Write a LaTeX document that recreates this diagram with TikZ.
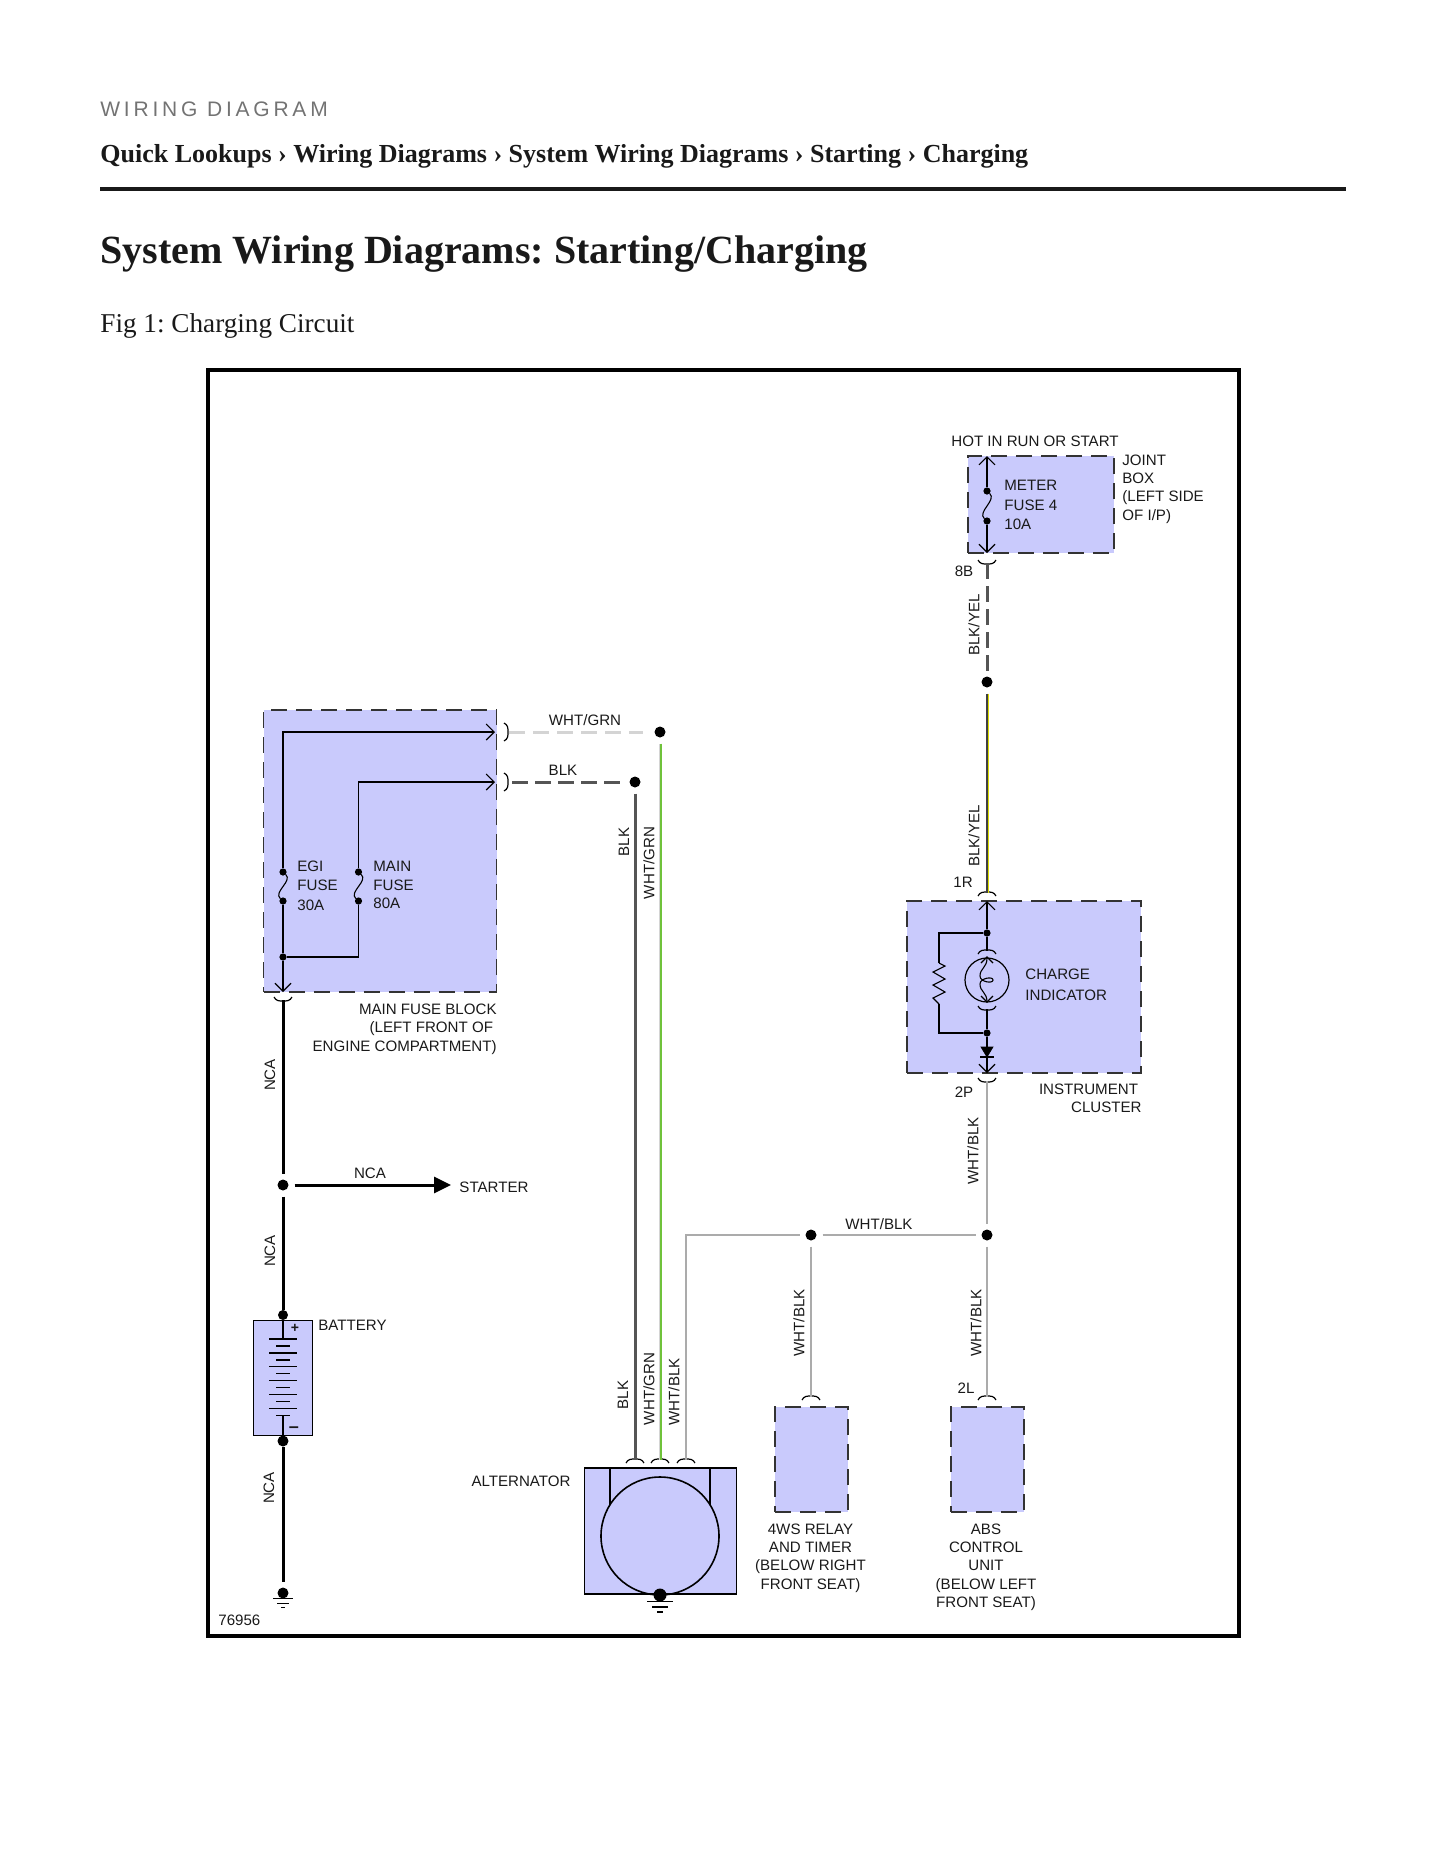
\documentclass[tikz,border=0pt]{standalone}
\usepackage{fontspec}
\setmainfont{Liberation Serif}
\newfontfamily\labelfont{Liberation Sans}
\newfontfamily\kickerfont[LetterSpace=18]{Liberation Sans}
\usetikzlibrary{arrows.meta}
\definecolor{boxfill}{HTML}{C9CAFC}
\definecolor{wiredark}{HTML}{555555}
\definecolor{wirelight}{HTML}{D4D4D4}
\definecolor{wiregrey}{HTML}{ABABAB}
\definecolor{wiregreen}{HTML}{6FC23A}
\definecolor{wireyellow}{HTML}{DEDE00}
\tikzset{
  lbl/.style={font=\labelfont\fontsize{7.55}{9.15}\selectfont,inner sep=0pt,text=black!90},
  unitbox/.style={draw=black!80,fill=boxfill,line width=0.75pt,dash pattern=on 8pt off 4.5pt,inner sep=0pt},
  solidbox/.style={draw=black,fill=boxfill,line width=0.5pt,inner sep=0pt},
  jdot/.style={circle,fill=black,inner sep=0pt,minimum size=5.5pt,outer sep=3pt},
  fdot/.style={circle,fill=black,inner sep=0pt,minimum size=3.6pt,outer sep=0pt},
  thin wire/.style={line width=0.55pt,black},
  barb/.style={-{Straight Barb[length=4pt,width=8pt,line width=0.55pt]}},
  nca/.style={line width=1.5pt,black},
  blkwire/.style={line width=1.5pt,wiredark},
  blkdash/.style={blkwire,dash pattern=on 8pt off 3.5pt},
  wgdash/.style={line width=1.5pt,wirelight,dash pattern=on 8pt off 4pt},
  wgwire/.style={line width=1.5pt,wirelight},
  wbwire/.style={line width=1.25pt,wiregrey},
  plugup/.pic={\draw [line width=0.6pt] (-9,-3) .. controls (-7,1) and (-4,1) .. (0,1) .. controls (4,1) and (7,1) .. (9,-3);},
  plugdown/.pic={\draw [line width=0.6pt] (-9,3) .. controls (-7,-1) and (-4,-1) .. (0,-1) .. controls (4,-1) and (7,-1) .. (9,3);},
  plugright/.pic={\draw [line width=0.6pt] (-3,-9) .. controls (1,-7) and (1,-4) .. (1,0) .. controls (1,4) and (1,7) .. (-3,9);}
}

\begin{document}
\frenchspacing
\begin{tikzpicture}[x=0.5pt,y=0.5pt,yscale=-1,xscale=1]
\useasboundingbox (0,0) rectangle (1445,1870);

% Page heading
\node (kicker) [anchor=base west,inner sep=0pt,text=black!55,font=\kickerfont\fontsize{10.5}{12}\selectfont] at (100,116) {WIRING DIAGRAM};
\node (crumbs) [anchor=base west,inner sep=0pt,text=black!90,font=\bfseries\fontsize{13}{16}\selectfont] at (100,162) {Quick Lookups › Wiring Diagrams › System Wiring Diagrams › Starting › Charging};
\draw [line width=1.6pt,black!90] (100,189) -- (1346,189);
\node (title) [anchor=base west,inner sep=0pt,text=black!90,font=\bfseries\fontsize{20}{24}\selectfont] at (100,263) {System Wiring Diagrams: Starting/Charging};
\node (figcap) [anchor=base west,inner sep=0pt,text=black!90,font=\fontsize{13.6}{16}\selectfont] at (100,332) {Fig 1: Charging Circuit};

% Frame
\draw [line width=2pt] (208,370) rectangle (1239,1636);

% Unit boxes
\node (fuseblock) [unitbox,minimum width=116.5pt,minimum height=141pt] at (380,851) {};
\node (jointbox) [unitbox,minimum width=73pt,minimum height=48.5pt] at (1041,504.5) {};
\node (cluster) [unitbox,minimum width=117pt,minimum height=86pt] at (1024,987) {};
\node (relaybox) [unitbox,minimum width=36.5pt,minimum height=52.5pt] at (811.5,1459.5) {};
\node (absbox) [unitbox,minimum width=36.5pt,minimum height=52.5pt] at (987.5,1459.5) {};
\node (battbox) [solidbox,minimum width=29.5pt,minimum height=57.5pt] at (283,1377.5) {};
\node (altbox) [solidbox,line width=0.9pt,minimum width=76pt,minimum height=63pt] at (660.5,1531) {};

% Plug ends
\coordinate (pfuse) at (283,1000);
\coordinate (pgrn) at (509,732);
\coordinate (pblk) at (512,782);
\coordinate (p8b) at (987,563);
\coordinate (p1r) at (987,893);
\coordinate (p2p) at (987,1081);
\coordinate (prelay) at (811,1397);
\coordinate (p2l) at (987,1397);
\coordinate (palta) at (635,1460);
\coordinate (paltb) at (660,1460);
\coordinate (paltc) at (686,1460);
\pic at (pfuse) {plugdown};
\pic at (507,732) {plugright};
\pic at (507,782) {plugright};
\pic at (p8b) {plugdown};
\pic at (p1r) {plugup};
\pic at (p2p) {plugdown};
\pic at (prelay) {plugup};
\pic at (p2l) {plugup};
\pic at (palta) {plugup};
\pic at (paltb) {plugup};
\pic at (paltc) {plugup};

% Junctions
\node (jstart) [jdot] at (283,1185) {};
\node (jgrn) [jdot] at (660,732) {};
\node (jblk) [jdot] at (635,782) {};
\node (jyel) [jdot] at (987,682) {};
\node (jwba) [jdot] at (811,1235) {};
\node (jwbb) [jdot] at (987,1235) {};
\node (jbatp) [circle,fill=black,inner sep=0pt,minimum size=5pt] at (283,1315) {};
\node (jbatn) [circle,fill=black,inner sep=0pt,minimum size=5.5pt] at (283,1441) {};
\node (jbgnd) [circle,fill=black,inner sep=0pt,minimum size=5.5pt] at (283,1593) {};
\node (jagnd) [circle,fill=black,inner sep=0pt,minimum size=6.5pt] at (660,1595) {};
\coordinate (cstarter) at (451,1185);
\coordinate (cbgnd) at (283,1582);
\coordinate (cbatn) at (283,1447);

% Wires
\draw [nca] (pfuse) -- (jstart);
\draw [nca] (jstart) -- (jbatp);
\draw [nca] (cbatn) -- (cbgnd);
\draw [nca,-{Triangle[length=8.5pt,width=8pt]}] (jstart) -- (cstarter);
\draw [wgdash,shorten >=3pt] (pgrn) -- (jgrn);
\draw [blkdash] (pblk) -- (jblk);
\draw [blkwire] (jblk) -- (palta);
\draw [wgwire] (jgrn) -- (paltb);
\draw [line width=0.6pt,wiregreen] ([xshift=0.5pt]jgrn.south) -- ([xshift=0.5pt]paltb);
\draw [wbwire] (paltc) |- (jwba);
\draw [wbwire] (jwba) -- (jwbb);
\draw [wbwire] (jwba) -- (prelay);
\draw [wbwire] (jwbb) -- (p2l);
\draw [wbwire] (p2p) -- (jwbb);
\draw [blkdash] (p8b) -- (jyel);
\draw [line width=0.9pt,black!75] (jyel) -- (p1r);
\draw [line width=0.45pt,wireyellow] ([xshift=0.5pt]jyel.south) -- ([xshift=0.5pt]p1r);

% Main fuse block inside
\node (egia) [fdot] at (283,872) {};
\node (egib) [fdot] at (283,901) {};
\node (maina) [fdot] at (358.5,872) {};
\node (mainb) [fdot] at (358.5,901) {};
\node (jfuse) [fdot] at (283,957) {};
\coordinate (tipgrn) at (495,732);
\coordinate (tipblk) at (495,782);
\coordinate (tipfuse) at (283,992);
\draw [thin wire,barb] (egia) |- (tipgrn);
\draw [thin wire,barb] (maina) |- (tipblk);
\draw [thin wire] (egia) .. controls +(10,9) and +(-10,-9) .. (egib);
\draw [thin wire] (maina) .. controls +(10,9) and +(-10,-9) .. (mainb);
\draw [thin wire] (egib) -- (jfuse);
\draw [thin wire] (mainb) |- (jfuse);
\draw [thin wire,barb] (jfuse) -- (tipfuse);

% Meter fuse
\node (metera) [fdot] at (987,491) {};
\node (meterb) [fdot] at (987,521) {};
\coordinate (tipjointa) at (987,456);
\coordinate (tipjointb) at (987,553);
\draw [thin wire,barb] (metera) -- (tipjointa);
\draw [thin wire,barb] (meterb) -- (tipjointb);
\draw [thin wire] (metera) .. controls +(10,9) and +(-10,-9) .. (meterb);

% Charge indicator
\node (jclua) [fdot] at (987,933) {};
\node (jclub) [fdot] at (987,1033) {};
\node (lamp) [circle,draw,line width=0.6pt,inner sep=0pt,minimum size=22pt] at (987,980) {};
\coordinate (tipclua) at (987,901);
\coordinate (tipclub) at (987,1073);
\coordinate (plampa) at (987,951);
\coordinate (plampb) at (987,1009);
\coordinate (resa) at (939,963);
\coordinate (resb) at (939,1004);
\draw [thin wire,barb] (jclua) -- (tipclua);
\draw [thin wire,barb] (jclub) -- (tipclub);
\draw [thin wire] (jclua) -- (plampa);
\draw [thin wire] (plampb) -- (jclub);
\pic at (plampa) {plugup};
\pic at (plampb) {plugdown};
\draw [line width=0.55pt] (987,958) .. controls (987,968) and (980,968) .. (980,976) .. controls (980,982) and (993,984) .. (993,980) .. controls (993,976) and (980,978) .. (980,984) .. controls (980,992) and (987,992) .. (987,1002);
\draw [line width=0.55pt] (981,963) -- (987,957) -- (993,963);
\draw [line width=0.55pt] (981,996) -- (987,1002) -- (993,996);
\draw [thin wire] (jclua) -| (resa);
\draw [thin wire] (jclub) -| (resb);
\draw [thin wire] (resa) -- (945,966) -- (933,972) -- (945,979) -- (933,985) -- (945,992) -- (933,998) -- (resb);
\draw [fill=black,line width=0.3pt] (981,1047) -- (993,1047) -- (987,1057) -- cycle;
\draw [line width=0.6pt] (980,1057) -- (994,1057);

% Battery
\coordinate (platep) at (283,1339);
\coordinate (platen) at (283,1415);
\draw [line width=0.6pt] (jbatp) -- (platep);
\draw [nca,line width=1pt] (platen) -- (jbatn);
\draw [line width=1pt] (269,1339) -- (297,1339);
\draw [line width=1pt] (276,1346) -- (290,1346);
\draw [line width=1pt] (269,1353) -- (297,1353);
\draw [line width=1pt] (276,1360) -- (290,1360);
\draw [line width=0.45pt] (269,1366) -- (297,1366);
\draw [line width=0.45pt] (276,1373) -- (290,1373);
\draw [line width=0.45pt] (269,1380) -- (297,1380);
\draw [line width=0.45pt] (276,1387) -- (290,1387);
\draw [line width=0.45pt] (269,1394) -- (297,1394);
\draw [line width=0.45pt] (276,1401) -- (290,1401);
\draw [line width=0.45pt] (269,1408) -- (297,1408);
\draw [line width=0.45pt] (276,1415) -- (290,1415);
\node (plus) [lbl,font=\labelfont\bfseries\fontsize{7}{9}\selectfont] at (295,1328) {+};
\node (minus) [lbl,font=\labelfont\bfseries\fontsize{9}{9}\selectfont] at (294,1430) {–};

% Grounds
\draw [line width=0.5pt] (273,1598) -- (293,1598);
\draw [line width=0.5pt] (277,1603) -- (289,1603);
\draw [line width=0.5pt] (281,1607) -- (285,1607);
\draw [line width=0.5pt] (647,1601) -- (673,1601);
\draw [line width=0.7pt] (652,1607) -- (668,1607);
\draw [line width=0.8pt] (657,1612) -- (663,1612);

% Alternator
\node (altrotor) [circle,draw,line width=0.8pt,inner sep=0pt,minimum size=59pt] at (660,1536) {};
\draw [line width=0.7pt] (610,1468) -- (610,1505);
\draw [line width=0.7pt] (710,1468) -- (710,1505);

% Text Node
\node (hotlbl) [lbl] at (1035,441) {HOT IN RUN OR START};
\node (jointlbl) [lbl,anchor=west,align=left] at (1122,489) {JOINT\\BOX\\(LEFT SIDE\\OF I/P)};
\node (meterlbl) [lbl,anchor=west,align=left] at (1004,505) {METER\\[0.5pt]FUSE 4\\[0.5pt]10A};
\node (lbl8b) [lbl] at (964,571) {8B};
\node (lblyela) [lbl,rotate=90] at (974,625) {BLK/YEL};
\node (lblyelb) [lbl,rotate=90] at (974,836) {BLK/YEL};
\node (lbl1r) [lbl] at (963,882) {1R};
\node (chargelbl) [lbl,anchor=west,align=left] at (1025,985) {CHARGE\\[1.5pt]INDICATOR};
\node (lbl2p) [lbl] at (964,1092) {2P};
\node (clusterlbl) [lbl,anchor=east,align=right] at (1142,1098) {INSTRUMENT\kern1.8pt\\CLUSTER};
\node (lblwbtop) [lbl,rotate=90] at (973,1151) {WHT/BLK};
\node (lblwbh) [lbl] at (879,1224) {WHT/BLK};
\node (lblwbrelay) [lbl,rotate=90] at (799,1323) {WHT/BLK};
\node (lblwbabs) [lbl,rotate=90] at (976,1323) {WHT/BLK};
\node (lbl2l) [lbl] at (966,1388) {2L};
\node (relaylbl) [lbl,align=center] at (810.5,1558) {4WS RELAY\\AND TIMER\\(BELOW RIGHT\\FRONT SEAT)};
\node (abslbl) [lbl,align=center] at (986,1567) {ABS\\CONTROL\\UNIT\\(BELOW LEFT\\FRONT SEAT)};
\node (egilbl) [lbl,anchor=west,align=left] at (297,885.5) {EGI\\[0.5pt]FUSE\\[0.5pt]30A};
\node (mainlbl) [lbl,anchor=west,align=left] at (373,885) {MAIN\\FUSE\\80A};
\node (blocklbl) [lbl,anchor=east,align=right] at (497,1029) {MAIN FUSE BLOCK\\(LEFT FRONT OF\kern1.8pt\\ENGINE COMPARTMENT)};
\node (lblgrn) [lbl] at (585,720) {WHT/GRN};
\node (lblblk) [lbl] at (563,770) {BLK};
\node (lblblka) [lbl,rotate=90] at (624,842) {BLK};
\node (lblgrna) [lbl,rotate=90] at (649,863) {WHT/GRN};
\node (lblblkb) [lbl,rotate=90] at (623,1395) {BLK};
\node (lblgrnb) [lbl,rotate=90] at (649,1389) {WHT/GRN};
\node (lblwbb) [lbl,rotate=90] at (674,1392) {WHT/BLK};
\node (altlbl) [lbl] at (521,1481) {ALTERNATOR};
\node (ncaa) [lbl,rotate=90] at (270,1075) {NCA};
\node (ncab) [lbl,rotate=90] at (270,1251) {NCA};
\node (ncac) [lbl,rotate=90] at (269,1488) {NCA};
\node (ncad) [lbl] at (370,1173) {NCA};
\node (starterlbl) [lbl] at (494,1187) {STARTER};
\node (batterylbl) [lbl,anchor=west] at (318,1325) {BATTERY};
\node (figno) [lbl,anchor=west] at (218,1620) {76956};

\end{tikzpicture}
\end{document}
